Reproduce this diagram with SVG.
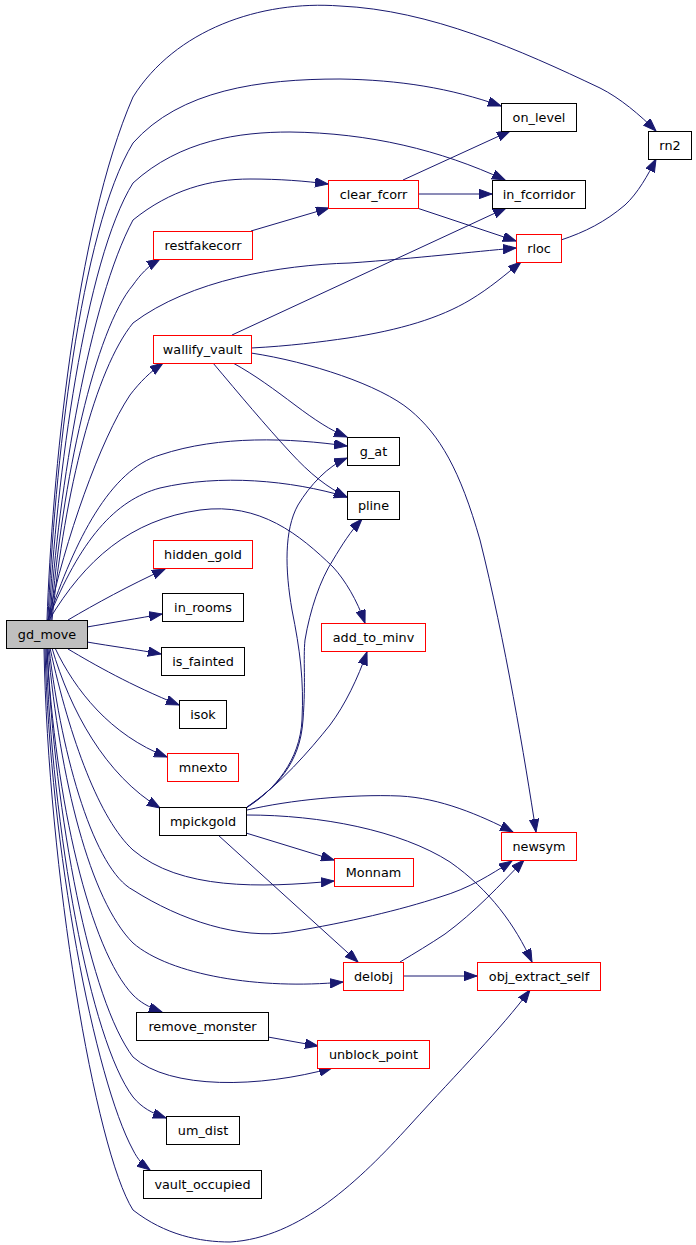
<svg xmlns="http://www.w3.org/2000/svg" width="696" height="1245" viewBox="0 0 696 1245">
<style>
.e{fill:none;stroke:#191970;stroke-width:1;marker-end:url(#ah)}
.n rect{fill:#fff;stroke:#000;stroke-width:1}
.n.r rect{stroke:#ff0000}
.n.g rect{fill:#bfbfbf}
.n text{font-family:"DejaVu Sans","Liberation Sans",sans-serif;font-size:12.8px;fill:#000;text-anchor:middle}
</style>
<defs>
<marker id="ah" markerWidth="14" markerHeight="10" refX="13" refY="4.7" orient="auto" markerUnits="userSpaceOnUse">
<path d="M0,0 L13,4.7 L0,9.4 Z" fill="#191970" stroke="#191970" stroke-width="1"/>
</marker>
</defs>
<rect width="696" height="1245" fill="#fff"/>
<g id="edges">
<path class="e" d="M47,620 C52,480 75,230 133,97 C175,30 260,0 340,6 C430,10 520,50 600,88 C620,98 640,115 656,131"/>
<path class="e" d="M48,620 C54,470 80,230 133,143 C180,90 260,79 340,79 C400,80 450,88 501,106"/>
<path class="e" d="M49,620 C56,480 85,260 133,183 C180,140 240,132 290,132 C370,133 440,150 505,180"/>
<path class="e" d="M50,620 C58,490 90,300 133,220 C170,190 210,179 250,179 C280,179 305,181 328,184"/>
<path class="e" d="M51,620 C62,480 95,330 133,285 C140,275 148,266 160,259"/>
<path class="e" d="M52,620 C65,490 95,370 133,323 C190,280 280,265 350,263 C420,258 470,252 516,248"/>
<path class="e" d="M48,620 C65,540 100,440 130,395 C140,382 150,372 163,363"/>
<path class="e" d="M48,620 C75,540 110,470 160,455 C220,435 290,438 347,446"/>
<path class="e" d="M48,620 C80,540 115,500 160,488 C220,474 290,480 347,497"/>
<path class="e" d="M49,620 C85,560 130,520 200,510 C260,502 300,535 333,567 C345,580 357,600 365,623"/>
<path class="e" d="M68,620 C95,604 130,585 165,569"/>
<path class="e" d="M87,627 C110,623 140,618 162,614"/>
<path class="e" d="M87,642 C110,646 140,650 161,654"/>
<path class="e" d="M68,649 C95,665 130,685 179,705"/>
<path class="e" d="M55,648 C75,690 110,735 167,757"/>
<path class="e" d="M52,648 C70,710 105,775 160,808"/>
<path class="e" d="M50,648 C70,740 100,820 133,850 C180,890 260,888 334,881"/>
<path class="e" d="M49,648 C62,760 95,870 133,890 C180,920 240,940 290,932 C350,922 400,910 440,897 C470,888 490,875 512,861"/>
<path class="e" d="M48,648 C60,780 90,900 133,943 C170,975 260,990 343,982"/>
<path class="e" d="M47,648 C55,800 90,950 133,995 C140,1002 148,1007 162,1012"/>
<path class="e" d="M47,648 C55,820 90,1000 133,1057 C170,1090 260,1088 332,1068"/>
<path class="e" d="M46,648 C52,830 90,1040 133,1097 C142,1108 152,1113 166,1118"/>
<path class="e" d="M45,648 C50,850 95,1080 133,1150 C138,1160 143,1165 150,1170"/>
<path class="e" d="M44,648 C48,870 95,1150 133,1210 C165,1235 200,1242 230,1242 C300,1238 360,1180 410,1125 C460,1070 500,1030 530,990"/>
<path class="e" d="M251,231 L329,208"/>
<path class="e" d="M403,180 L510,131"/>
<path class="e" d="M418,194 L492,194"/>
<path class="e" d="M417,208 L516,241"/>
<path class="e" d="M561,240 C585,232 605,222 625,205 C638,193 648,175 656,159"/>
<path class="e" d="M232,335 L506,208"/>
<path class="e" d="M251,348 C290,346 320,342 348,338 C400,330 440,318 470,300 C490,288 505,275 521,262"/>
<path class="e" d="M233,363 C255,375 275,390 295,405 C315,420 330,430 347,437"/>
<path class="e" d="M213,363 C240,395 265,425 290,452 C310,474 328,488 347,497"/>
<path class="e" d="M251,353 C310,362 380,385 410,410 C440,435 460,470 480,540 C505,640 525,760 536,832"/>
<path class="e" d="M246,808 C275,790 300,760 302,720 C304,680 300,650 292,610 C285,570 284,530 298,505 C310,485 328,466 347,458"/>
<path class="e" d="M246,808 C275,788 300,765 303,720 C306,680 303,660 305,640 C310,610 320,580 333,560 C342,545 350,532 362,519"/>
<path class="e" d="M247,807 C280,785 310,750 330,725 C345,705 358,678 367,652"/>
<path class="e" d="M247,810 C290,800 350,794 400,796 C440,798 480,815 513,832"/>
<path class="e" d="M247,815 C320,815 400,830 450,862 C490,890 515,925 532,962"/>
<path class="e" d="M246,833 L334,860"/>
<path class="e" d="M218,835 L358,962"/>
<path class="e" d="M400,962 C415,953 430,944 445,934 C475,912 500,885 524,860"/>
<path class="e" d="M403,976 L477,976"/>
<path class="e" d="M268,1037 L318,1046"/>
</g>
<g id="gd_move" class="n g"><rect x="6.5" y="620.5" width="81" height="28"/><text x="47" y="639">gd_move</text></g>
<g id="restfakecorr" class="n r"><rect x="153.5" y="231.5" width="99" height="28"/><text x="203" y="250">restfakecorr</text></g>
<g id="wallify_vault" class="n r"><rect x="153.5" y="335.5" width="98" height="28"/><text x="202.5" y="354">wallify_vault</text></g>
<g id="clear_fcorr" class="n r"><rect x="328.5" y="180.5" width="90" height="28"/><text x="373.5" y="199">clear_fcorr</text></g>
<g id="on_level" class="n"><rect x="501.5" y="103.5" width="75" height="28"/><text x="539" y="122">on_level</text></g>
<g id="rn2" class="n"><rect x="648.5" y="131.5" width="43" height="28"/><text x="670" y="150">rn2</text></g>
<g id="in_fcorridor" class="n"><rect x="492.5" y="180.5" width="93" height="28"/><text x="539" y="199">in_fcorridor</text></g>
<g id="rloc" class="n r"><rect x="516.5" y="234.5" width="45" height="28"/><text x="539" y="253">rloc</text></g>
<g id="g_at" class="n"><rect x="347.5" y="437.5" width="52" height="28"/><text x="373.5" y="456">g_at</text></g>
<g id="pline" class="n"><rect x="347.5" y="491.5" width="52" height="28"/><text x="373.5" y="510">pline</text></g>
<g id="add_to_minv" class="n r"><rect x="321.5" y="623.5" width="104" height="28"/><text x="373.5" y="642">add_to_minv</text></g>
<g id="hidden_gold" class="n r"><rect x="153.5" y="540.5" width="99" height="28"/><text x="203" y="559">hidden_gold</text></g>
<g id="in_rooms" class="n"><rect x="162.5" y="593.5" width="81" height="28"/><text x="203" y="612">in_rooms</text></g>
<g id="is_fainted" class="n"><rect x="161.5" y="647.5" width="83" height="28"/><text x="203" y="666">is_fainted</text></g>
<g id="isok" class="n"><rect x="179.5" y="700.5" width="47" height="28"/><text x="203" y="719">isok</text></g>
<g id="mnexto" class="n r"><rect x="167.5" y="753.5" width="71" height="28"/><text x="203" y="772">mnexto</text></g>
<g id="mpickgold" class="n"><rect x="159.5" y="807.5" width="87" height="28"/><text x="203" y="826">mpickgold</text></g>
<g id="newsym" class="n r"><rect x="501.5" y="832.5" width="75" height="28"/><text x="539" y="851">newsym</text></g>
<g id="Monnam" class="n r"><rect x="334.5" y="858.5" width="79" height="28"/><text x="373.5" y="877">Monnam</text></g>
<g id="delobj" class="n r"><rect x="343.5" y="962.5" width="60" height="28"/><text x="373.5" y="981">delobj</text></g>
<g id="obj_extract_self" class="n r"><rect x="477.5" y="962.5" width="123" height="28"/><text x="539" y="981">obj_extract_self</text></g>
<g id="unblock_point" class="n r"><rect x="317.5" y="1040.5" width="112" height="28"/><text x="373.5" y="1059">unblock_point</text></g>
<g id="remove_monster" class="n"><rect x="136.5" y="1012.5" width="132" height="28"/><text x="202.5" y="1031">remove_monster</text></g>
<g id="um_dist" class="n"><rect x="166.5" y="1116.5" width="73" height="28"/><text x="203" y="1135">um_dist</text></g>
<g id="vault_occupied" class="n"><rect x="143.5" y="1170.5" width="118" height="28"/><text x="202.5" y="1189">vault_occupied</text></g>
</svg>
